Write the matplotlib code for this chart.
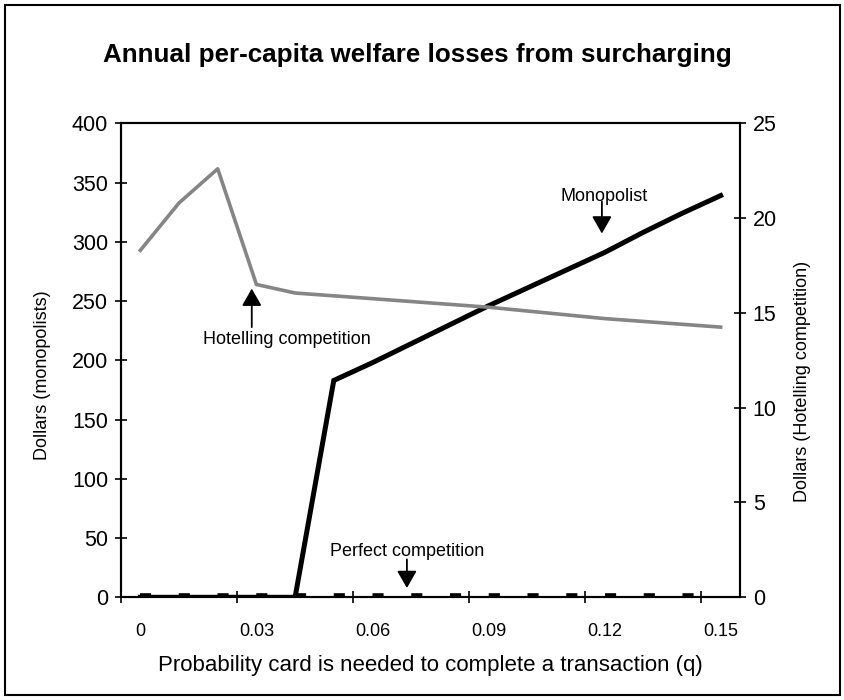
import matplotlib
matplotlib.use("Agg")
import matplotlib.pyplot as plt
from matplotlib.patches import Rectangle

plt.rcParams['font.family'] = ['Liberation Sans', 'DejaVu Sans']

# ---- data ----
q_labels = ["0", "0.01", "0.02", "0.03", "0.04", "0.05", "0.06", "0.07",
            "0.08", "0.09", "0.10", "0.11", "0.12", "0.13", "0.14", "0.15"]
monopolist = [0, 0, 0, 0, 0, 183, 198, 214, 230, 246, 261, 276, 291, 308, 324, 339]
hotelling = [18.3, 20.8, 22.6, 16.5, 16.05, 15.9, 15.75, 15.6, 15.45, 15.3,
             15.1, 14.9, 14.7, 14.55, 14.4, 14.25]
perfect = [0] * 16
shown_labels = ["0", "0.03", "0.06", "0.09", "0.12", "0.15"]
left_ticks = [0, 50, 100, 150, 200, 250, 300, 350, 400]
right_ticks = [0, 5, 10, 15, 20, 25]

title = "Annual per-capita welfare losses from surcharging"
xlabel = "Probability card is needed to complete a transaction (q)"
ylabel_left = "Dollars (monopolists)"
ylabel_right = "Dollars (Hotelling competition)"

W, H = 845, 700
fig = plt.figure(figsize=(W / 100, H / 100), dpi=100)
ax = fig.add_axes([121 / W, 1 - 597.3 / H, (740 - 121) / W, (597.3 - 123.3) / H])
ax2 = ax.twinx()

x = list(range(len(q_labels)))

# perfect competition: dashed black line along zero
lw_pc = 5.5
ax.plot(x, perfect, color='black', lw=lw_pc, solid_capstyle='butt',
        dash_capstyle='butt', dashes=(8.0 / lw_pc, 19.9 / lw_pc), zorder=2)
# monopolist
ax.plot(x, monopolist, color='black', lw=3.6, solid_joinstyle='miter', zorder=3)
# hotelling (right axis)
ax2.plot(x, hotelling, color='#858585', lw=2.6, zorder=3)

ax.set_xlim(-0.5, len(q_labels) - 0.5)
ax.set_ylim(0, 400)
ax2.set_ylim(0, 25)

# category axis: ticks between groups of three, labels at categories
ax.set_xticks([-0.5 + 3 * i for i in range(6)])
ax.set_xticklabels([""] * 6)
ax.set_xticks([q_labels.index(s) for s in shown_labels], minor=True)
ax.set_xticklabels(shown_labels, minor=True)
ax.tick_params(axis='x', which='major', direction='inout', length=8.5, width=1.2)
ax.tick_params(axis='x', which='minor', length=0, pad=18.5, labelsize=13)

ax.set_yticks(left_ticks)
ax.tick_params(axis='y', direction='inout', length=8.5, width=1.2, pad=5, labelsize=15.5)
ax2.set_yticks(right_ticks)
ax2.tick_params(axis='y', direction='inout', length=8.5, width=1.2, pad=5, labelsize=15.5)

for a in (ax, ax2):
    for s in a.spines.values():
        s.set_linewidth(1.5)
        s.set_color('black')

ax.set_xlabel(xlabel, fontsize=16)
ax.xaxis.set_label_coords(0.5, -0.122)
ax.set_ylabel(ylabel_left, fontsize=13)
ax.yaxis.set_label_coords(-0.113, 0.469)
ax2.set_ylabel(ylabel_right, fontsize=13)
ax2.yaxis.set_label_coords(1.087, 0.456)

fig.text(417.5 / W, 1 - 55 / H, title, ha='center', va='center',
         fontsize=18.7, fontweight='bold')

arrow = dict(arrowstyle='-|>,head_length=0.7,head_width=0.4', color='black',
             lw=1.3, mutation_scale=15, shrinkA=0, shrinkB=0)

# Monopolist annotation
ax.text(12.0, 338, "Monopolist", ha='center', va='center', fontsize=13)
ax.annotate("", xy=(11.93, 307), xytext=(11.93, 334), arrowprops=arrow)
# Hotelling annotation
ax.text(3.8, 217.7, "Hotelling competition", ha='center', va='center', fontsize=13)
ax.annotate("", xy=(2.88, 260.5), xytext=(2.88, 228), arrowprops=arrow)
# Perfect competition annotation
ax.text(6.89, 39, "Perfect competition", ha='center', va='center', fontsize=13)
ax.annotate("", xy=(6.89, 7.8), xytext=(6.89, 32), arrowprops=arrow)

# figure frame
fig.patches.append(Rectangle((5 / W, 5 / H), 835 / W, 690 / H, transform=fig.transFigure,
                             fill=False, edgecolor='black', lw=1.5))

fig.savefig("out.png", dpi=100)
